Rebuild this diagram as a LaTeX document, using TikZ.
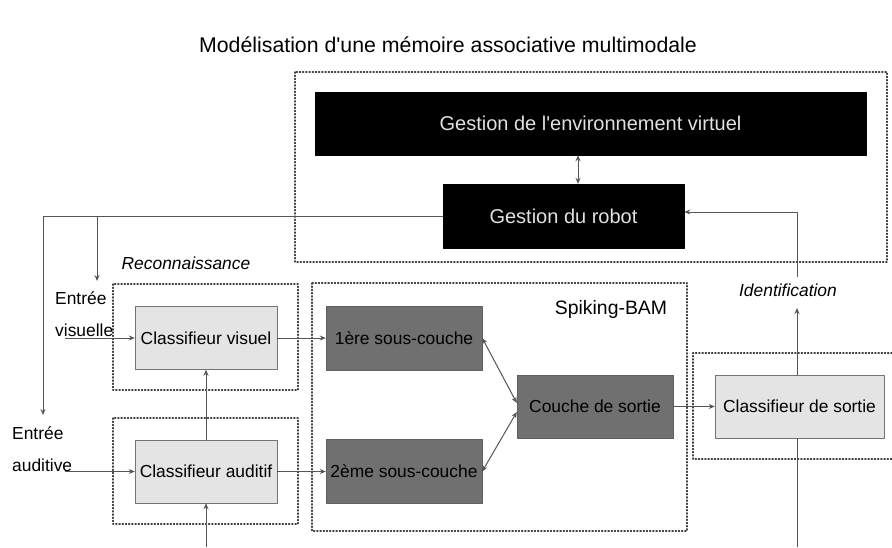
\documentclass[tikz,border=0pt]{standalone}
\usepackage{fontspec}
\setmainfont{Liberation Sans}
\usetikzlibrary{arrows.meta}
\definecolor{linegray}{RGB}{85,85,85}
\definecolor{boxlight}{RGB}{228,228,228}
\definecolor{boxdark}{RGB}{112,112,112}
\definecolor{textlight}{RGB}{225,225,225}
\begin{document}
\begin{tikzpicture}[x=1pt,y=-1pt,font=\fontsize{17.4}{20}\selectfont,line join=round,>={Stealth[length=6pt,width=5pt]},
  blackbox/.style={draw=black,fill=black,text=textlight,inner sep=0pt,minimum height=63pt,font=\fontsize{20}{24}\selectfont},
  darkbox/.style={draw=boxdark!85!black,fill=boxdark,inner sep=0pt,minimum width=156pt,minimum height=64pt},
  lightbox/.style={draw=black!55,fill=boxlight,inner sep=0pt,minimum height=63pt},
  frame/.style={draw=black!75,dotted,line width=1.2pt,line cap=round},
  link/.style={draw=linegray,line width=1pt}]
\useasboundingbox (0,0) rectangle (892,547);
\node (title) at (448,45) {\fontsize{21.3}{24}\selectfont Modélisation d\textquotesingle une mémoire associative multimodale};
\draw[frame] (295,72) rectangle (887,262);
\draw[frame] (113,284) rectangle (298,390);
\draw[frame] (113,418) rectangle (298,524);
\draw[frame] (312,283) rectangle (687,531);
\draw[frame] (892,353) -- (693,353) -- (693,459) -- (892,459);
\node[blackbox,minimum width=551pt] (env) at (590.5,123.5) {Gestion de l\textquotesingle environnement virtuel};
\node[blackbox,minimum width=241pt,minimum height=64pt] (robot) at (563.5,216) {Gestion du robot};
\node[lightbox,minimum width=142pt] (visuel) at (206,338) {Classifieur visuel};
\node[lightbox,minimum width=142pt] (auditif) at (206,471.5) {Classifieur auditif};
\node[darkbox] (sc1) at (404,338) {1ère sous-couche};
\node[darkbox] (sc2) at (404,471.5) {2ème sous-couche};
\node[darkbox,minimum height=63pt] (sortie) at (595,406.5) {Couche de sortie};
\node[lightbox,minimum width=169pt] (clsortie) at (799.5,406.5) {Classifieur de sortie};
\node (reco) at (186,263) {\itshape Reconnaissance};
\node (ident) at (788,290) {\itshape Identification};
\node (bam) at (611,309) {\fontsize{19.4}{22}\selectfont Spiking-BAM};
\node[anchor=west,inner sep=0pt] (ev1) at (55,298) {Entrée};
\node[anchor=west,inner sep=0pt] (ev2) at (55,330) {visuelle};
\node[anchor=west,inner sep=0pt] (ea1) at (12,433) {Entrée};
\node[anchor=west,inner sep=0pt] (ea2) at (12,465) {auditive};
\coordinate (inv) at (65,338);
\coordinate (ina) at (65,471.5);
\coordinate (lcorner) at (43,216);
\coordinate (audin) at (43,415);
\coordinate (visin) at (97,281);
\coordinate (idtop) at (797,277);
\coordinate (idbot) at (797,308);
\coordinate (botL) at (206,547);
\coordinate (botR) at (797,547);
\draw[link,<->] ([xshift=14.5pt]robot.north) -- ([xshift=14.5pt]robot.north |- env.south);
\draw[link,->] (robot.west) -- (lcorner) -- (audin);
\draw[link,->] (visin |- lcorner) -- (visin);
\draw[link,->] (inv) -- (inv -| visuel.west);
\draw[link,->] (ina) -- (ina -| auditif.west);
\draw[link,->] (visuel) -- (sc1);
\draw[link,->] (auditif) -- (sc2);
\draw[link,->] (botL) -- (auditif.south);
\draw[link,->] (auditif) -- (visuel);
\draw[link,<->] (sc1.east) -- ([yshift=3.5pt]sortie.west);
\draw[link,<->] (sc2.east) -- ([yshift=-5.5pt]sortie.west);
\draw[link,->] (sortie) -- (clsortie);
\draw[link,->] (clsortie.north -| idbot) -- (idbot);
\draw[link,->] (idtop) |- ([yshift=4pt]robot.east);
\draw[link] (clsortie.south -| botR) -- (botR);
\end{tikzpicture}
\end{document}
